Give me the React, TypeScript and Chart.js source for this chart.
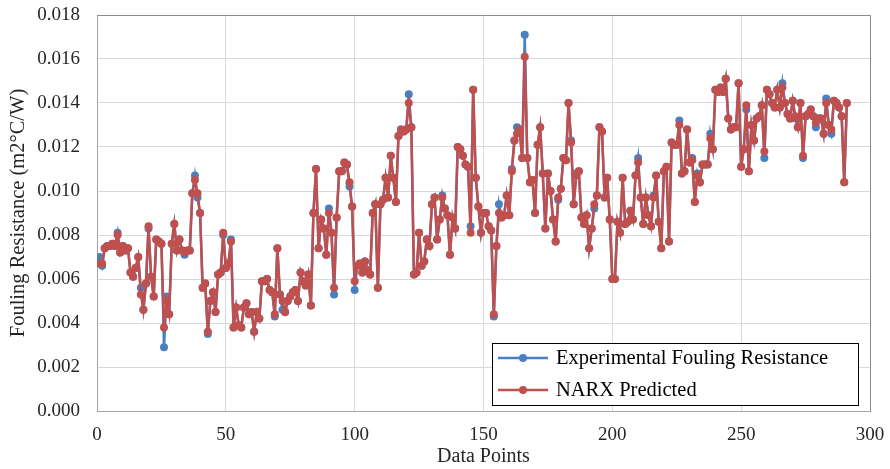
import React, { useEffect, useRef } from "react";
import { Chart, registerables } from "chart.js";

Chart.register(...registerables);

const xTicks = [0, 50, 100, 150, 200, 250, 300];
const yTicks = [0, 0.002, 0.004, 0.006, 0.008, 0.01, 0.012, 0.014, 0.016, 0.018];

const seriesNames = ["Experimental Fouling Resistance", "NARX Predicted"];

const predicted = [
  0.0067,0.0067,0.0074,0.0075,0.0075,0.0076,0.0075,0.0080,0.0072,0.0075,
  0.0073,0.0074,0.0063,0.0061,0.0065,0.0070,0.0053,0.0046,0.0058,0.0084,
  0.0061,0.0052,0.0078,0.0077,0.0076,0.0038,0.0050,0.0044,0.0076,0.0085,
  0.0073,0.0078,0.0073,0.0072,0.0073,0.0073,0.0099,0.0105,0.0099,0.0090,
  0.0056,0.0058,0.0036,0.0050,0.0054,0.0045,0.0062,0.0063,0.0081,0.0065,
  0.0067,0.0077,0.0038,0.0047,0.0039,0.0038,0.0047,0.0049,0.0044,0.0045,
  0.0036,0.0045,0.0042,0.0059,0.0059,0.0060,0.0055,0.0054,0.0044,0.0074,
  0.0053,0.0050,0.0045,0.0050,0.0052,0.0054,0.0055,0.0050,0.0063,0.0059,
  0.0057,0.0062,0.0048,0.0090,0.0110,0.0074,0.0087,0.0083,0.0071,0.0090,
  0.0081,0.0056,0.0088,0.0109,0.0109,0.0113,0.0112,0.0104,0.0093,0.0059,
  0.0066,0.0067,0.0063,0.0068,0.0064,0.0062,0.0090,0.0094,0.0056,0.0094,
  0.0096,0.0106,0.0097,0.0116,0.0106,0.0095,0.0125,0.0128,0.0127,0.0128,
  0.0140,0.0129,0.0062,0.0063,0.0081,0.0066,0.0068,0.0078,0.0075,0.0094,
  0.0097,0.0078,0.0087,0.0097,0.0092,0.0089,0.0071,0.0088,0.0083,0.0120,
  0.0119,0.0116,0.0112,0.0111,0.0081,0.0146,0.0106,0.0093,0.0081,0.0090,
  0.0090,0.0084,0.0082,0.0044,0.0075,0.0090,0.0088,0.0089,0.0098,0.0089,
  0.0109,0.0123,0.0126,0.0128,0.0115,0.0161,0.0115,0.0104,0.0105,0.0090,
  0.0121,0.0129,0.0108,0.0083,0.0108,0.0100,0.0087,0.0077,0.0097,0.0101,
  0.0115,0.0114,0.0140,0.0122,0.0094,0.0107,0.0109,0.0088,0.0085,0.0089,
  0.0074,0.0083,0.0094,0.0098,0.0129,0.0127,0.0097,0.0106,0.0087,0.0060,
  0.0060,0.0086,0.0081,0.0106,0.0085,0.0086,0.0091,0.0087,0.0107,0.0113,
  0.0097,0.0085,0.0097,0.0089,0.0084,0.0097,0.0107,0.0086,0.0074,0.0109,
  0.0111,0.0077,0.0122,0.0121,0.0121,0.0130,0.0108,0.0109,0.0128,0.0113,
  0.0114,0.0095,0.0107,0.0104,0.0112,0.0112,0.0112,0.0124,0.0119,0.0146,
  0.0145,0.0147,0.0145,0.0151,0.0133,0.0128,0.0129,0.0129,0.0149,0.0111,
  0.0119,0.0139,0.0109,0.0130,0.0123,0.0133,0.0134,0.0139,0.0118,0.0146,
  0.0144,0.0140,0.0138,0.0146,0.0138,0.0147,0.0140,0.0135,0.0133,0.0141,
  0.0134,0.0129,0.0140,0.0116,0.0134,0.0135,0.0137,0.0134,0.0131,0.0133,
  0.0133,0.0126,0.0140,0.0130,0.0128,0.0141,0.0140,0.0138,0.0134,0.0104,0.0140,
];

const experimental = [
  0.0070,0.0066,0.0074,0.0075,0.0075,0.0076,0.0075,0.0081,0.0072,0.0075,
  0.0073,0.0074,0.0063,0.0061,0.0065,0.0070,0.0056,0.0046,0.0058,0.0083,
  0.0061,0.0052,0.0078,0.0077,0.0076,0.0029,0.0052,0.0044,0.0076,0.0085,
  0.0073,0.0078,0.0073,0.0071,0.0073,0.0073,0.0099,0.0107,0.0097,0.0090,
  0.0056,0.0058,0.0035,0.0050,0.0054,0.0045,0.0062,0.0063,0.0080,0.0065,
  0.0067,0.0078,0.0038,0.0047,0.0039,0.0038,0.0047,0.0049,0.0044,0.0045,
  0.0036,0.0045,0.0042,0.0059,0.0059,0.0060,0.0055,0.0054,0.0043,0.0074,
  0.0053,0.0046,0.0045,0.0050,0.0052,0.0054,0.0055,0.0050,0.0063,0.0059,
  0.0057,0.0062,0.0048,0.0090,0.0110,0.0074,0.0087,0.0083,0.0071,0.0092,
  0.0081,0.0053,0.0088,0.0109,0.0109,0.0113,0.0112,0.0102,0.0093,0.0055,
  0.0066,0.0067,0.0063,0.0068,0.0064,0.0062,0.0090,0.0094,0.0056,0.0094,
  0.0096,0.0106,0.0097,0.0116,0.0106,0.0095,0.0125,0.0128,0.0127,0.0128,
  0.0144,0.0129,0.0062,0.0063,0.0081,0.0066,0.0068,0.0078,0.0075,0.0094,
  0.0097,0.0078,0.0087,0.0098,0.0092,0.0089,0.0071,0.0088,0.0083,0.0120,
  0.0119,0.0116,0.0112,0.0111,0.0084,0.0146,0.0106,0.0093,0.0081,0.0090,
  0.0090,0.0084,0.0082,0.0043,0.0075,0.0094,0.0088,0.0089,0.0098,0.0089,
  0.0110,0.0123,0.0129,0.0128,0.0115,0.0171,0.0115,0.0104,0.0105,0.0090,
  0.0121,0.0129,0.0108,0.0083,0.0108,0.0100,0.0087,0.0077,0.0096,0.0101,
  0.0115,0.0114,0.0140,0.0123,0.0094,0.0108,0.0109,0.0088,0.0085,0.0089,
  0.0074,0.0083,0.0092,0.0098,0.0129,0.0127,0.0097,0.0106,0.0087,0.0060,
  0.0060,0.0086,0.0081,0.0106,0.0085,0.0086,0.0091,0.0087,0.0107,0.0115,
  0.0097,0.0085,0.0097,0.0089,0.0084,0.0098,0.0107,0.0086,0.0074,0.0109,
  0.0111,0.0077,0.0122,0.0121,0.0121,0.0132,0.0108,0.0109,0.0128,0.0113,
  0.0115,0.0095,0.0108,0.0104,0.0112,0.0112,0.0112,0.0126,0.0119,0.0146,
  0.0145,0.0147,0.0145,0.0151,0.0133,0.0128,0.0129,0.0129,0.0149,0.0111,
  0.0119,0.0137,0.0109,0.0130,0.0123,0.0133,0.0134,0.0139,0.0115,0.0146,
  0.0144,0.0140,0.0138,0.0146,0.0138,0.0149,0.0140,0.0135,0.0133,0.0141,
  0.0133,0.0129,0.0140,0.0115,0.0134,0.0135,0.0137,0.0134,0.0129,0.0133,
  0.0133,0.0126,0.0142,0.0130,0.0126,0.0141,0.0140,0.0138,0.0134,0.0104,0.0140,
];

const BLUE = "#4a7fc1";
const RED = "#c0504d";
const FONT = "'Liberation Serif', 'Times New Roman', serif";

const frameAndLegend = {
  id: "frameAndLegend",
  afterDraw(chart: any) {
    const { ctx, chartArea } = chart;
    ctx.save();
    // plot-area frame (top and right sides)
    ctx.strokeStyle = "#8c8c8c";
    ctx.lineWidth = 1;
    ctx.beginPath();
    ctx.moveTo(chartArea.left, Math.round(chartArea.top) + 0.5);
    ctx.lineTo(Math.round(chartArea.right) + 0.5, Math.round(chartArea.top) + 0.5);
    ctx.lineTo(Math.round(chartArea.right) + 0.5, chartArea.bottom);
    ctx.stroke();

    const boxW = 366;
    const boxH = 62;
    const left = chartArea.right - 378;
    const top = chartArea.bottom - 68;
    ctx.fillStyle = "#ffffff";
    ctx.fillRect(left, top, boxW, boxH);
    ctx.strokeStyle = "#000000";
    ctx.lineWidth = 1;
    ctx.strokeRect(left + 0.5, top + 0.5, boxW, boxH);
    const colors = [BLUE, RED];
    seriesNames.forEach((name, i) => {
      const y = top + 15 + i * 32;
      ctx.strokeStyle = colors[i];
      ctx.lineWidth = 2.5;
      ctx.beginPath();
      ctx.moveTo(left + 6, y);
      ctx.lineTo(left + 56, y);
      ctx.stroke();
      ctx.fillStyle = colors[i];
      ctx.beginPath();
      ctx.arc(left + 31, y, 4, 0, Math.PI * 2);
      ctx.fill();
      ctx.fillStyle = "#000000";
      ctx.font = `20.5px ${FONT}`;
      ctx.textAlign = "left";
      ctx.textBaseline = "middle";
      ctx.fillText(name, left + 64, y + 1);
    });
    ctx.restore();
  },
};

export default function App() {
  const ref = useRef<HTMLCanvasElement | null>(null);
  useEffect(() => {
    if (!ref.current) return;
    const chart = new Chart(ref.current, {
      type: "line",
      data: {
        datasets: [
          {
            label: seriesNames[0],
            data: experimental.map((v, i) => ({ x: i + 1, y: v })),
            borderColor: BLUE,
            backgroundColor: BLUE,
            borderWidth: 2.5,
            pointRadius: 4,
            pointBorderWidth: 0,
            pointBackgroundColor: BLUE,
            order: 2,
          },
          {
            label: seriesNames[1],
            data: predicted.map((v, i) => ({ x: i + 1, y: v })),
            borderColor: RED,
            backgroundColor: RED,
            borderWidth: 2.5,
            pointRadius: 4,
            pointBorderWidth: 0,
            pointBackgroundColor: RED,
            order: 1,
          },
        ],
      },
      options: {
        animation: false,
        responsive: false,
        layout: { padding: { top: 15, right: 20, left: 0, bottom: 0 } },
        plugins: {
          legend: { display: false },
          tooltip: { enabled: false },
        },
        scales: {
          x: {
            type: "linear",
            min: 0,
            max: 300,
            afterBuildTicks: (s: any) => {
              s.ticks = xTicks.map((v) => ({ value: v }));
            },
            afterFit: (s: any) => {
              s.height = 58;
              s.paddingLeft = 0;
              s.paddingRight = 0;
            },
            grid: { color: "#d9d9d9", drawTicks: false },
            border: { color: "#a6a6a6" },
            ticks: {
              color: "#262626",
              font: { family: FONT, size: 19 },
              padding: 13,
            },
            title: {
              display: true,
              text: "Data Points",
              color: "#262626",
              font: { family: FONT, size: 20 },
              padding: { top: 0, bottom: 0 },
            },
          },
          y: {
            type: "linear",
            min: 0,
            max: 0.018,
            afterBuildTicks: (s: any) => {
              s.ticks = yTicks.map((v) => ({ value: v }));
            },
            afterFit: (s: any) => {
              s.width = 97;
              s.paddingTop = 0;
              s.paddingBottom = 0;
            },
            grid: { color: "#d9d9d9", drawTicks: false },
            border: { color: "#a6a6a6" },
            ticks: {
              color: "#262626",
              font: { family: FONT, size: 19 },
              padding: 17,
              callback: (v: any) => Number(v).toFixed(3),
            },
            title: {
              display: true,
              text: "Fouling Resistance (m2°C/W)",
              color: "#262626",
              font: { family: FONT, size: 20.5 },
              padding: { top: 6, bottom: 0 },
            },
          },
        },
      },
      plugins: [frameAndLegend],
    });
    return () => chart.destroy();
  }, []);
  return (
    <div style={{ position: "absolute", left: 0, top: 0, width: 890, height: 469, background: "#fff" }}>
      <canvas ref={ref} width={890} height={469} />
    </div>
  );
}
